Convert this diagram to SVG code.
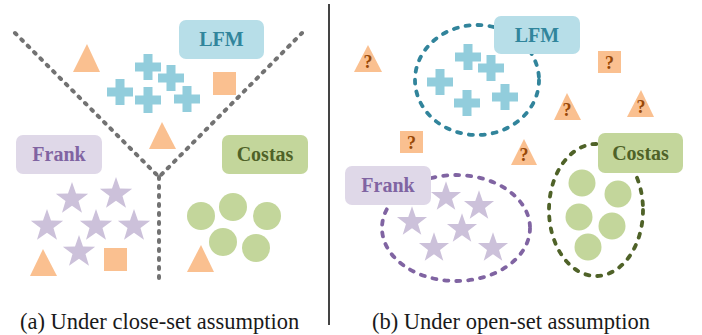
<svg xmlns="http://www.w3.org/2000/svg" xmlns:xlink="http://www.w3.org/1999/xlink" width="702" height="335" viewBox="0 0 702 335">
<style>
.lbl{font-weight:bold;font-size:20px;text-anchor:middle}
.cap{font-size:22.5px;fill:#1a1a1a}
.q{font-weight:bold;font-size:18px;fill:#984807;text-anchor:middle}
.org{fill:#fac090}
.blu{fill:#92cddc}
.pur{fill:#ccc1da}
.grn{fill:#c3d69b}
.sep{fill:none;stroke:#727272;stroke-width:4;stroke-linecap:round;stroke-dasharray:2 7}
.ell{fill:none;stroke-width:3.8;stroke-linecap:round;stroke-dasharray:4 8}
</style>
<defs>
<path id="star" d="M0,-17L4,-5.5L16.17,-5.25L6.47,2.1L9.99,13.75L0,6.8L-9.99,13.75L-6.47,2.1L-16.17,-5.25L-4,-5.5Z"/>
<path id="cross" d="M-4.5,-13h9v8.5h8.5v9h-8.5v8.5h-9v-8.5h-8.5v-9h8.5z"/>
</defs>
<rect width="702" height="335" fill="#ffffff"/>

<!-- connectors / separators -->
<g id="connectors">
<path class="sep" d="M15,33L159,177L302,33"/>
<path class="sep" d="M159,177V283"/>
<line x1="329" y1="4" x2="329" y2="325" stroke="#444444" stroke-width="2"/>
<ellipse class="ell" cx="477" cy="80" rx="62" ry="55" stroke="#31849b"/>
<ellipse class="ell" cx="456" cy="228" rx="74" ry="53" stroke="#8064a2"/>
<ellipse class="ell" cx="596" cy="210" rx="47" ry="66" stroke="#4f6228"/>
</g>

<g font-family="Liberation Serif, Tinos, Times New Roman, DejaVu Serif, serif">
<!-- left panel -->
<g id="left-lfm-samples" class="blu">
<use xlink:href="#cross" x="148" y="67"/>
<use xlink:href="#cross" x="171" y="78"/>
<use xlink:href="#cross" x="120" y="92"/>
<use xlink:href="#cross" x="148" y="100"/>
<use xlink:href="#cross" x="187" y="99"/>
</g>
<g id="left-frank-samples" class="pur">
<use xlink:href="#star" x="72" y="199"/>
<use xlink:href="#star" x="116" y="194"/>
<use xlink:href="#star" x="47" y="226"/>
<use xlink:href="#star" x="96" y="226"/>
<use xlink:href="#star" x="134" y="226"/>
<use xlink:href="#star" x="79" y="252"/>
</g>
<g id="left-costas-samples" class="grn">
<circle cx="201" cy="216" r="14"/>
<circle cx="233" cy="207" r="14"/>
<circle cx="267" cy="216" r="14"/>
<circle cx="223" cy="242" r="14"/>
<circle cx="256" cy="248" r="14"/>
</g>
<g id="left-unknown" class="org">
<polygon points="87,44 73,72 100,72"/>
<rect x="213" y="72" width="23" height="23"/>
<polygon points="162,122 149,149 176,149"/>
<polygon points="43,249 30,276 57,276"/>
<rect x="104" y="248" width="23" height="23"/>
<polygon points="201,245 187,272 214,272"/>
</g>
<g id="left-lfm-label">
<rect x="179" y="20" width="85" height="39" rx="7" fill="#b7dee8"/>
<text class="lbl" x="221.5" y="46" fill="#31859c">LFM</text>
</g>
<g id="left-frank-label">
<rect x="16" y="135" width="86" height="39" rx="7" fill="#dfd8e8"/>
<text class="lbl" x="59" y="161" fill="#8064a2">Frank</text>
</g>
<g id="left-costas-label">
<rect x="222" y="135" width="86" height="39" rx="7" fill="#c3d69b"/>
<text class="lbl" x="265" y="161" fill="#4f6228">Costas</text>
</g>
<text id="caption-a" class="cap" x="20" y="329">(a) Under close-set assumption</text>

<!-- right panel -->
<g id="right-lfm-samples" class="blu">
<use xlink:href="#cross" x="468" y="57"/>
<use xlink:href="#cross" x="491" y="68"/>
<use xlink:href="#cross" x="440" y="82"/>
<use xlink:href="#cross" x="467" y="103"/>
<use xlink:href="#cross" x="505" y="97"/>
</g>
<g id="right-frank-samples" class="pur">
<use xlink:href="#star" transform="translate(446,197) scale(0.93)"/>
<use xlink:href="#star" transform="translate(479,206) scale(0.93)"/>
<use xlink:href="#star" transform="translate(412,222) scale(0.93)"/>
<use xlink:href="#star" transform="translate(462,229) scale(0.93)"/>
<use xlink:href="#star" transform="translate(434,248) scale(0.93)"/>
<use xlink:href="#star" transform="translate(493,248) scale(0.93)"/>
</g>
<g id="right-costas-samples" class="grn">
<circle cx="582" cy="183" r="13.5"/>
<circle cx="618" cy="194" r="13.5"/>
<circle cx="579" cy="217" r="13.5"/>
<circle cx="612" cy="226" r="13.5"/>
<circle cx="588" cy="247" r="13.5"/>
</g>
<g id="right-unknown-1">
<polygon class="org" points="368,45 354,72 382,72"/>
<text class="q" x="368" y="68">?</text>
</g>
<g id="right-unknown-2">
<polygon class="org" points="567,93 554,120 581,120"/>
<text class="q" x="567" y="116">?</text>
</g>
<g id="right-unknown-3">
<polygon class="org" points="641,90 627,117 654,117"/>
<text class="q" x="641" y="113">?</text>
</g>
<g id="right-unknown-4">
<polygon class="org" points="524,139 511,165 537,165"/>
<text class="q" x="524" y="161">?</text>
</g>
<g id="right-unknown-5">
<rect class="org" x="598" y="51" width="23" height="22"/>
<text class="q" x="609.5" y="69">?</text>
</g>
<g id="right-unknown-6">
<rect class="org" x="400" y="131" width="23" height="22"/>
<text class="q" x="411.5" y="149">?</text>
</g>
<g id="right-lfm-label">
<rect x="494" y="16" width="86" height="38" rx="7" fill="#b7dee8"/>
<text class="lbl" x="537" y="42" fill="#31859c">LFM</text>
</g>
<g id="right-frank-label">
<rect x="345" y="166" width="86" height="39" rx="7" fill="#dfd8e8"/>
<text class="lbl" x="388" y="192" fill="#8064a2">Frank</text>
</g>
<g id="right-costas-label">
<rect x="598" y="133" width="85" height="40" rx="7" fill="#c3d69b"/>
<text class="lbl" x="640.5" y="160" fill="#4f6228">Costas</text>
</g>
<text id="caption-b" class="cap" x="372" y="329">(b) Under open-set assumption</text>
</g>
</svg>
